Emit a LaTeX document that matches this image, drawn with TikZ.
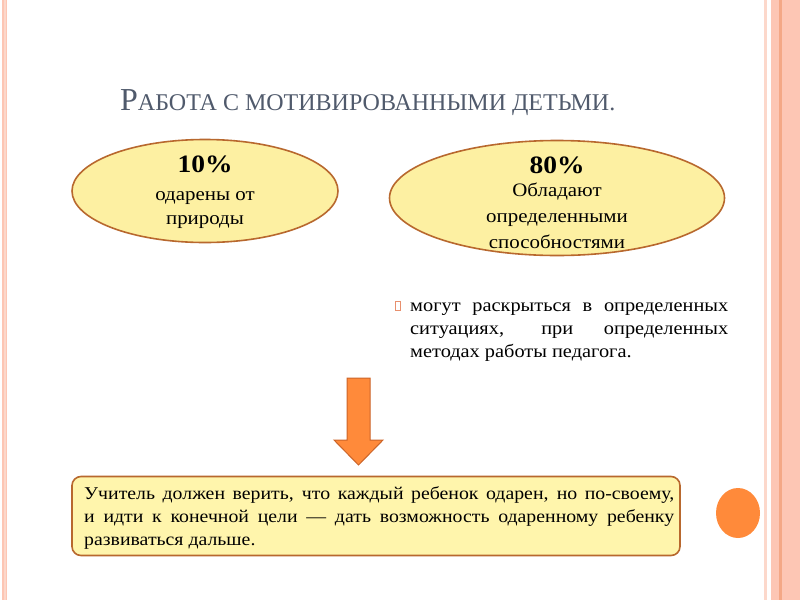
\documentclass[tikz,border=0pt]{standalone}
\usepackage{fontspec}
\setmainfont{Liberation Serif}[FakeStretch=1.1]
\newfontfamily\titlefont{Liberation Serif}
\usetikzlibrary{shapes.geometric}
\definecolor{band}{HTML}{FDC6B4}
\definecolor{bandline}{HTML}{F4A886}
\definecolor{bandlight}{HTML}{FCD8CB}
\definecolor{eyfill}{HTML}{FDF0A2}
\definecolor{eyline}{HTML}{B8682E}
\definecolor{boxfill}{HTML}{FFF5AC}
\definecolor{arrfill}{HTML}{FF8A3A}
\definecolor{arrline}{HTML}{CC6428}
\definecolor{titlecol}{HTML}{505A6C}
\definecolor{bulletcol}{HTML}{E8906E}
\tikzset{
  oval/.style={ellipse, draw=eyline, line width=1.6pt, fill=eyfill, inner sep=0pt},
  ovtxt/.style={align=center, inner sep=0pt, text=black},
}
\begin{document}
\begin{tikzpicture}[x=1pt,y=-1pt]
\useasboundingbox (0,0) rectangle (800,600);
\fill[white] (0,0) rectangle (800,600);
% side bands
\fill[bandlight] (2,0) rectangle (7,600);
\fill[band] (2,0) rectangle (3.5,600);
\fill[band] (5.5,0) rectangle (7,600);
\fill[bandlight] (764,0) rectangle (767,600);
\fill[band] (771,0) rectangle (800,600);
\fill[bandline] (779,0) rectangle (782,600);
% title
\node[anchor=base west, text=titlecol, inner sep=0pt] (title) at (120,110)
  {\titlefont{\fontsize{32}{32}\selectfont Р}{\fontsize{24}{24}\selectfont АБОТА С МОТИВИРОВАННЫМИ ДЕТЬМИ.}};
% ellipses
\node[oval, minimum width=266pt, minimum height=103pt] (e1) at (205,191) {};
\node[ovtxt, anchor=base] (e1a) at (e1.center |- 0,172) {\bfseries\fontsize{25}{25}\selectfont 10\%};
\node[ovtxt, anchor=base, font=\fontsize{19}{24}\selectfont] (e1b) at (e1.center |- 0,224) {одарены от\\природы};
\node[oval, minimum width=335pt, minimum height=115pt] (e2) at (557,198) {};
\node[ovtxt, anchor=base] (e2a) at (e2.center |- 0,173) {\bfseries\fontsize{25}{25}\selectfont 80\%};
\node[ovtxt, anchor=base, font=\fontsize{19}{26}\selectfont] (e2b) at (e2.center |- 0,248) {Обладают\\определенными\\способностями};
% bullet text
\draw[bulletcol, line width=0.6pt] (395.5,301) rectangle (400.5,310);
\node[anchor=base west, inner sep=0pt, text width=318pt, align=justify, font=\fontsize{18.5}{23}\selectfont] (bt) at (410,311)
  {\vphantom{Ay}могут раскрыться в~определенных\linebreak ситуациях, при определенных\linebreak методах работы педагога.};
% arrow
\filldraw[fill=arrfill, draw=arrline, line width=1pt]
  (347,378) -- (370,378) -- (370,440) -- (383,440) -- (358.5,465) -- (334,440) -- (347,440) -- cycle;
% bottom box
\node[draw=eyline, line width=1.6pt, fill=boxfill, rounded corners=9pt, minimum width=608pt, minimum height=79pt, inner sep=0pt] (box) at (376,516) {};
\node[anchor=base west, inner sep=0pt, text width=590pt, align=justify, font=\fontsize{18}{23}\selectfont] (bx) at (84,499)
  {Учитель должен верить, что каждый ребенок одарен, но по-своему,\linebreak и идти к конечной цели — дать возможность одаренному ребенку\linebreak развиваться дальше.};
% orange dot
\fill[arrfill] (738,513) ellipse (22pt and 25pt);
\end{tikzpicture}
\end{document}
